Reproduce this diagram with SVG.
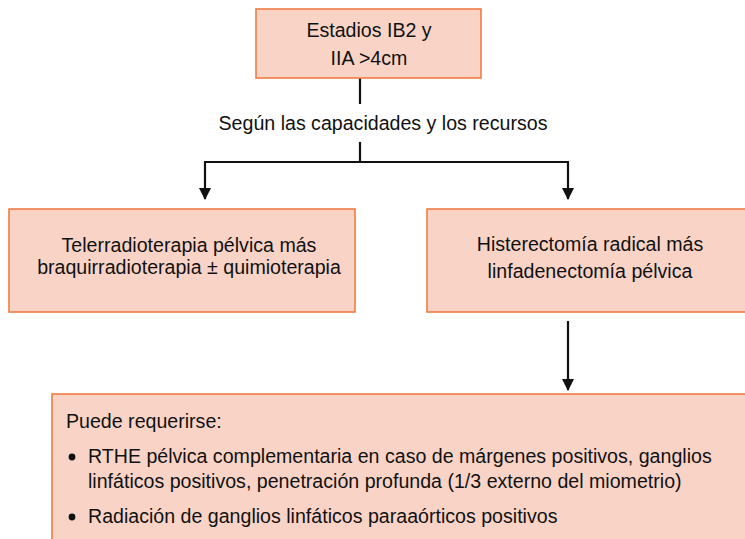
<svg xmlns="http://www.w3.org/2000/svg" width="745" height="539" viewBox="0 0 745 539">
<style>
.box{fill:#f9d4c6;stroke:#ef7c45;stroke-width:1.6}
.t{font-family:"Liberation Sans",Arial,sans-serif;font-size:19.6px;fill:#111}
.c{text-anchor:middle}
.ln{stroke:#111;stroke-width:2.2;fill:none}
</style>
<defs>
<marker id="ah" viewBox="0 0 12 12" refX="11" refY="6" markerWidth="12" markerHeight="12" markerUnits="userSpaceOnUse" orient="auto">
<path d="M0,0 L12,6 L0,12 Z" fill="#111"/>
</marker>
</defs>
<g id="connectors">
<line class="ln" x1="360" y1="78" x2="360" y2="104"/>
<text class="t c" x="383" y="130">Según las capacidades y los recursos</text>
<line class="ln" x1="360" y1="142" x2="360" y2="162"/>
<line class="ln" x1="204" y1="162" x2="569" y2="162"/>
<line class="ln" x1="205" y1="162" x2="205" y2="199" marker-end="url(#ah)"/>
<line class="ln" x1="568" y1="162" x2="568" y2="199" marker-end="url(#ah)"/>
<line class="ln" x1="568" y1="321" x2="568" y2="390" marker-end="url(#ah)"/>
</g>
<g id="n1">
<rect class="box" x="256" y="9" width="225" height="69"/>
<text class="t c" x="369" y="37">Estadios IB2 y</text>
<text class="t c" x="369" y="65">IIA &gt;4cm</text>
</g>
<g id="n2">
<rect class="box" x="9" y="209" width="346" height="103"/>
<text class="t c" x="189" y="252">Telerradioterapia pélvica más</text>
<text class="t c" x="189" y="274">braquirradioterapia ± quimioterapia</text>
</g>
<g id="n3">
<rect class="box" x="427" y="209" width="330" height="103"/>
<text class="t c" x="590" y="251">Histerectomía radical más</text>
<text class="t c" x="590" y="278">linfadenectomía pélvica</text>
</g>
<g id="n4">
<rect class="box" x="52" y="394" width="710" height="160"/>
<text class="t" x="66" y="428">Puede requerirse:</text>
<circle cx="72" cy="457" r="3.4" fill="#111"/>
<text class="t" x="88" y="463">RTHE pélvica complementaria en caso de márgenes positivos, ganglios</text>
<text class="t" x="88" y="488">linfáticos positivos, penetración profunda (1/3 externo del miometrio)</text>
<circle cx="72" cy="517" r="3.4" fill="#111"/>
<text class="t" x="88" y="523">Radiación de ganglios linfáticos paraaórticos positivos</text>
</g>
</svg>
